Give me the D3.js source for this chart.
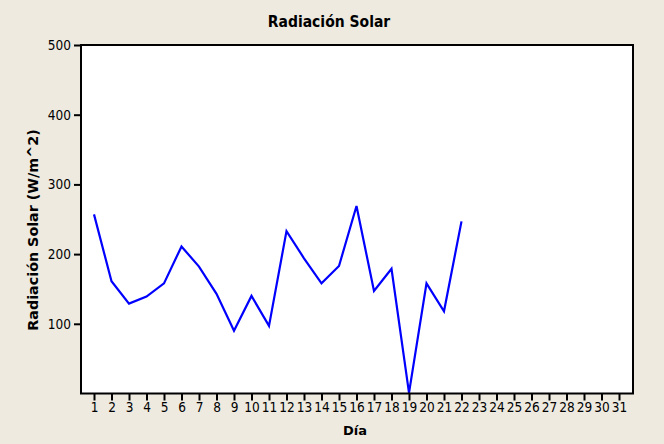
<!DOCTYPE html>
<html>
<head>
<meta charset="utf-8">
<script src="https://cdn.jsdelivr.net/npm/d3@7"></script>
<style>
  html, body { margin: 0; padding: 0; background: #EEEAE0; }
  svg { display: block; }
</style>
</head>
<body>
<script>
// Daily solar radiation (W/m^2) for one month
const days = d3.range(1, 32);
const radiation = [257, 161, 129, 139, 158, 211, 182, 143, 90, 140, 97,
                   233, 194, 158, 183, 269, 147, 179, 1, 158, 118, 247];
const yTicks = [100, 200, 300, 400, 500];

const W = 664, H = 444;
const frame = { left: 81, right: 633, top: 45, bottom: 393.5 };

const svg = d3.select("body").append("svg")
  .attr("width", W).attr("height", H);

svg.append("rect").attr("width", W).attr("height", H).attr("fill", "#EEEAE0");

const x = d3.scaleLinear().domain([1, 31]).range([94, 619]);
const y = d3.scaleLinear().domain([0, 500]).range([frame.bottom, frame.top]);

// plot area
svg.append("rect")
  .attr("x", frame.left).attr("y", frame.top)
  .attr("width", frame.right - frame.left)
  .attr("height", frame.bottom - frame.top)
  .attr("fill", "#FFFFFF");

const tickFont = "'DejaVu Sans Condensed', 'DejaVu Sans', sans-serif";

// y axis
const yAxis = svg.append("g")
  .attr("transform", `translate(${frame.left},0)`)
  .call(d3.axisLeft(y).tickValues(yTicks).tickSize(7).tickPadding(3).tickSizeOuter(0));
yAxis.select(".domain").remove();
yAxis.selectAll(".tick line").attr("stroke", "#000").attr("stroke-width", 2);
yAxis.selectAll(".tick text")
  .attr("font-family", tickFont).attr("font-size", 13.5).attr("fill", "#000");

// x axis
const xAxis = svg.append("g")
  .attr("transform", `translate(0,${frame.bottom})`)
  .call(d3.axisBottom(x).tickValues(days).tickFormat(d3.format("d"))
    .tickSize(7).tickPadding(2).tickSizeOuter(0));
xAxis.select(".domain").remove();
xAxis.selectAll(".tick line").attr("stroke", "#000").attr("stroke-width", 2);
xAxis.selectAll(".tick text")
  .attr("font-family", tickFont).attr("font-size", 13.5).attr("fill", "#000");

// radiation series
const line = d3.line()
  .x((d, i) => x(days[i]))
  .y(d => y(d));

svg.append("path")
  .datum(radiation)
  .attr("d", line)
  .attr("fill", "none")
  .attr("stroke", "#0000FF")
  .attr("stroke-width", 2.2)
  .attr("stroke-linejoin", "miter");

// frame drawn on top so the line sits beneath it
svg.append("rect")
  .attr("x", frame.left).attr("y", frame.top)
  .attr("width", frame.right - frame.left)
  .attr("height", frame.bottom - frame.top)
  .attr("fill", "none")
  .attr("stroke", "#000").attr("stroke-width", 2);

// titles
svg.append("text")
  .attr("x", 329).attr("y", 27)
  .attr("text-anchor", "middle")
  .attr("font-family", "'DejaVu Sans Condensed', 'DejaVu Sans', sans-serif")
  .attr("font-weight", "bold").attr("font-size", 15.5)
  .attr("fill", "#000")
  .text("Radiación Solar");

svg.append("text")
  .attr("transform", "translate(38,230) rotate(-90)")
  .attr("text-anchor", "middle")
  .attr("font-family", "'DejaVu Sans', sans-serif")
  .attr("font-weight", "bold").attr("font-size", 14.3)
  .attr("fill", "#000")
  .text("Radiación Solar (W/m^2)");

svg.append("text")
  .attr("x", 355).attr("y", 435)
  .attr("text-anchor", "middle")
  .attr("font-family", "'DejaVu Sans', sans-serif")
  .attr("font-weight", "bold").attr("font-size", 13)
  .attr("fill", "#000")
  .text("Día");
</script>
</body>
</html>
